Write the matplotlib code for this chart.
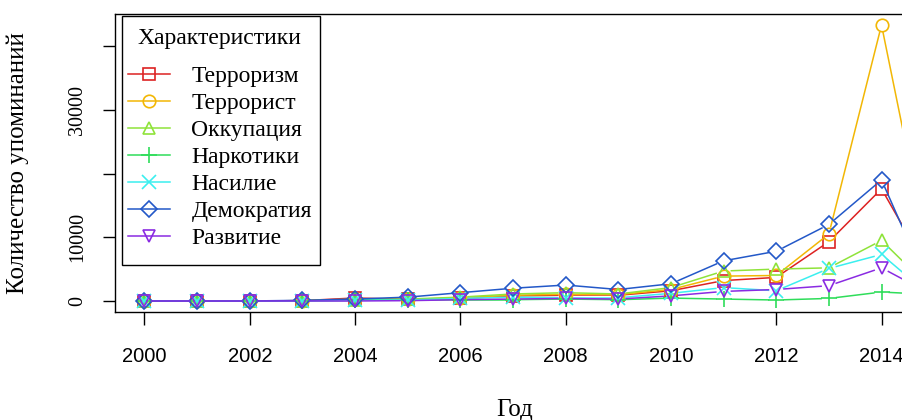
import numpy as np
import matplotlib
matplotlib.use("Agg")
import matplotlib.pyplot as plt
from matplotlib.lines import Line2D
from matplotlib.patches import Rectangle

# Year-by-year counts of mentions
years = np.arange(2000, 2016)
terrorism = [0, 0, 0, 50, 470, 250, 400, 800, 900, 900, 1600, 3200, 3700, 9300, 17600, 3100]
terrorist = [0, 0, 0, 50, 300, 250, 500, 900, 1050, 1000, 1800, 3900, 4000, 10500, 43300, 2800]
occupation = [0, 0, 0, 50, 200, 300, 600, 1100, 1300, 1100, 2100, 4700, 5000, 5200, 9500, 1400]
drugs = [0, 0, 0, 0, 100, 100, 200, 200, 300, 200, 450, 300, 150, 400, 1400, 1000]
violence = [0, 0, 0, 0, 100, 150, 400, 600, 500, 500, 1200, 2100, 1600, 5100, 7300, 300]
democracy = [0, 0, 0, 100, 300, 600, 1300, 2000, 2500, 1800, 2700, 6300, 7800, 12000, 19000, 300]
development = [0, 0, 0, 0, 0, 50, 200, 300, 400, 300, 800, 1500, 1800, 2400, 5200, 800]

labels = ["Терроризм", "Террорист", "Оккупация", "Наркотики",
          "Насилие", "Демократия", "Развитие"]
series = [terrorism, terrorist, occupation, drugs, violence, democracy, development]
colors = ["#DD2222", "#F2B705", "#8FE33A", "#2FDD5A", "#3BEFEF", "#2358C8", "#8A2BE2"]
markers = ["s", "o", "^", "+", "x", "D", "v"]
msizes = [8, 9, 9, 12, 10, 8, 9]

xticks = np.arange(2000, 2015, 2)
yticks = [0, 10000, 20000, 30000, 40000]
ytick_labels = ["0", "10000", "", "30000", ""]

serif = "Liberation Serif"
sans = "Liberation Sans"

fig = plt.figure(figsize=(9.03, 4.2), dpi=100)
# plot region runs past the right edge of the picture, as in the reference
ax = fig.add_axes([115 / 903, 1 - 312 / 420, 796 / 903, 298 / 420])
ax.set_xlim(2000 - 0.56, 2014 + 0.56)
ax.set_ylim(-1730, 43300 + 1730)


def gapped_line(ax, x, y, color, gap=7):
    # R type="b": segments stop short of the points
    tr = ax.transData
    pts = tr.transform(np.column_stack([x, y]))
    inv = tr.inverted()
    for p0, p1 in zip(pts[:-1], pts[1:]):
        d = p1 - p0
        n = np.hypot(*d)
        if n <= 2 * gap:
            continue
        u = d / n
        a = inv.transform(p0 + u * gap)
        b = inv.transform(p1 - u * gap)
        ax.plot([a[0], b[0]], [a[1], b[1]], color=color, lw=1.1, solid_capstyle="butt")


handles = []
for vals, lab, col, mk, ms in zip(series, labels, colors, markers, msizes):
    gapped_line(ax, years, vals, col)
    ax.plot(years, vals, linestyle="none", marker=mk, markersize=ms,
            markerfacecolor="none", markeredgecolor=col, markeredgewidth=1.2)
    handles.append(Line2D([], [], color=col, lw=1.1, marker=mk, markersize=ms,
                          markerfacecolor="none", markeredgecolor=col,
                          markeredgewidth=1.2, label=lab))

ax.set_xticks(xticks)
ax.set_xticklabels([str(t) for t in xticks], fontfamily=sans, fontsize=14.5)
ax.set_yticks(yticks)
ax.set_yticklabels(ytick_labels, fontfamily=serif, fontsize=14.5,
                   rotation=90, va="center")
ax.tick_params(axis="x", length=9, width=1, pad=16)
ax.tick_params(axis="y", length=9, width=1, pad=11)
for sp in ax.spines.values():
    sp.set_linewidth(1.0)

fig.text(515 / 903, 1 - 410 / 420, "Год", fontfamily=serif, fontsize=18,
         ha="center", va="center")
fig.text(18 / 903, 1 - 163 / 420, "Количество упоминаний", fontfamily=serif,
         fontsize=18, rotation=90, ha="center", va="center")

# legend contents without frame; the box is drawn separately
leg = ax.legend(handles=handles, title="Характеристики", loc="upper left",
                bbox_to_anchor=(128 / 903, 1 - 28 / 420),
                bbox_transform=fig.transFigure, borderaxespad=0,
                prop={"family": serif, "size": 17},
                title_fontproperties={"family": serif, "size": 17},
                frameon=False, handlelength=1.8, handletextpad=0.88,
                labelspacing=0.23, borderpad=0)
leg._legend_box.sep = 12
fig.add_artist(Rectangle((122 / 903, 1 - 265 / 420), 198 / 903, 249 / 420,
                         transform=fig.transFigure, fill=False,
                         edgecolor="black", linewidth=1.0))

fig.savefig("out.png", dpi=100)
